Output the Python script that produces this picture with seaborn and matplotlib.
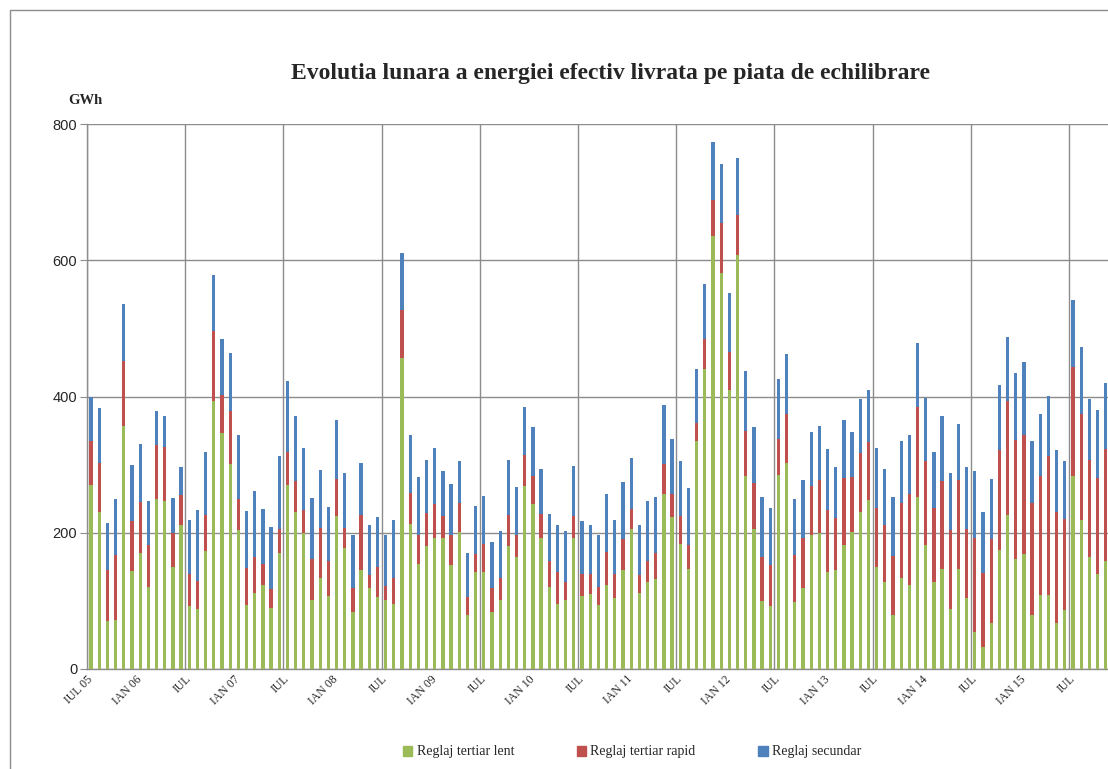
import pandas as pd
import matplotlib
matplotlib.use("Agg")
import matplotlib.pyplot as plt
from matplotlib.patches import Patch, Rectangle
import seaborn as sns

# monthly energy delivered on the balancing market, JUL 2005 - NOV 2015 (GWh)
months = pd.date_range("2005-07-01", "2015-11-01", freq="MS").strftime("%Y-%m").tolist()

tertiar_lent = [270, 231, 70, 72, 356, 144, 170, 121, 249, 246, 149, 211,
                92, 88, 173, 394, 346, 301, 204, 94, 112, 124, 89, 170,
                270, 231, 199, 102, 134, 107, 224, 178, 84, 146, 119, 106,
                102, 96, 456, 213, 154, 181, 193, 193, 153, 201, 79, 143,
                142, 84, 102, 181, 164, 269, 242, 192, 120, 96, 101, 192,
                107, 110, 94, 123, 104, 146, 205, 111, 127, 132, 257, 223,
                184, 147, 335, 441, 635, 582, 409, 608, 284, 206, 100, 93,
                285, 303, 98, 119, 196, 199, 142, 146, 182, 201, 230, 248,
                149, 128, 79, 134, 123, 253, 182, 128, 147, 88, 147, 104,
                55, 32, 67, 174, 226, 162, 169, 79, 108, 108, 68, 87,
                284, 219, 164, 139, 158]
tertiar_rapid = [64, 71, 76, 95, 96, 73, 75, 61, 80, 80, 51, 45,
                 47, 41, 53, 102, 56, 77, 45, 54, 52, 30, 28, 36,
                 48, 45, 35, 60, 73, 52, 55, 29, 35, 80, 19, 44,
                 20, 38, 71, 45, 43, 48, 49, 31, 44, 42, 26, 26,
                 42, 35, 31, 45, 33, 45, 42, 36, 38, 46, 27, 33,
                 32, 29, 26, 49, 35, 45, 30, 27, 31, 38, 44, 34,
                 40, 35, 26, 44, 54, 73, 56, 58, 65, 67, 64, 59,
                 53, 71, 70, 74, 73, 78, 92, 75, 99, 81, 87, 85,
                 88, 83, 87, 109, 134, 131, 124, 109, 129, 116, 130, 102,
                 138, 109, 124, 148, 168, 174, 175, 164, 175, 204, 163, 133,
                 160, 155, 143, 142, 165]
secundar = [65, 81, 69, 83, 84, 83, 85, 65, 50, 46, 51, 40,
            79, 105, 92, 83, 82, 86, 94, 84, 97, 81, 92, 106,
            105, 95, 90, 89, 85, 79, 86, 80, 78, 77, 74, 73,
            75, 84, 83, 86, 85, 78, 82, 66, 74, 62, 66, 70,
            70, 68, 70, 81, 70, 71, 71, 66, 70, 69, 75, 73,
            78, 73, 76, 85, 80, 84, 75, 74, 89, 82, 86, 81,
            82, 84, 80, 80, 85, 86, 87, 84, 89, 82, 89, 85,
            87, 89, 81, 85, 79, 80, 89, 75, 85, 66, 79, 77,
            87, 83, 86, 92, 86, 95, 92, 82, 95, 84, 83, 90,
            97, 90, 88, 95, 93, 98, 106, 92, 92, 89, 90, 85,
            97, 99, 90, 99, 97]

# axis labels every 6 months (IUL = July, IAN = January)
tick_labels = ["IUL 05", "IAN 06", "IUL", "IAN 07", "IUL", "IAN 08", "IUL",
               "IAN 09", "IUL", "IAN 10", "IUL", "IAN 11", "IUL", "IAN 12",
               "IUL", "IAN 13", "IUL", "IAN 14", "IUL", "IAN 15", "IUL"]
series_names = ["Reglaj tertiar lent", "Reglaj tertiar rapid", "Reglaj secundar"]
colors = ["#9BBB59", "#C0504D", "#4F81BD"]

df = pd.DataFrame({"Luna": months, "lent": tertiar_lent,
                   "rapid": tertiar_rapid, "secundar": secundar})
df["lent_rapid"] = df["lent"] + df["rapid"]
df["total"] = df["lent_rapid"] + df["secundar"]

sns.set_style("white")
serif = "Liberation Serif"
sans = "Liberation Sans"
grid_c = "#8C8C8C"

fig = plt.figure(figsize=(11.08, 7.69), dpi=100)
ax = fig.add_axes([87 / 1108, 100 / 769, 1031 / 1108, 545 / 769])

# stacked look: draw cumulative totals back to front
sns.barplot(data=df, x="Luna", y="total", color=colors[2], saturation=1,
            width=0.4, linewidth=0, ax=ax, zorder=3)
sns.barplot(data=df, x="Luna", y="lent_rapid", color=colors[1], saturation=1,
            width=0.4, linewidth=0, ax=ax, zorder=3)
sns.barplot(data=df, x="Luna", y="lent", color=colors[0], saturation=1,
            width=0.4, linewidth=0, ax=ax, zorder=3)

ax.set_xlim(-0.5, 125.5)
ax.set_ylim(0, 800)
ax.set_yticks([0, 200, 400, 600, 800])
ax.set_yticklabels(["0", "200", "400", "600", "800"], fontfamily=sans, fontsize=10.5)

# gridlines / tick marks on yearly July boundaries, labels at category centres
ax.set_xticks([-0.5 + 12 * k for k in range(11)])
ax.set_xticklabels([])
ax.set_xticks([6 * k for k in range(len(tick_labels))], minor=True)
ax.set_xticklabels(tick_labels, minor=True, rotation=45, ha="right", va="center",
                   rotation_mode="anchor", fontfamily=serif, fontsize=8.5)
ax.tick_params(axis="x", which="major", length=5, color=grid_c)
ax.tick_params(axis="x", which="minor", length=0, pad=6)
ax.tick_params(axis="y", length=5, color=grid_c, pad=2, left=True)

ax.grid(True, axis="y", color=grid_c, lw=1, zorder=0)
ax.grid(True, axis="x", which="major", color=grid_c, lw=1, zorder=0)
ax.grid(False, axis="x", which="minor")
ax.set_axisbelow(True)
for s in ["top", "right"]:
    ax.spines[s].set_visible(False)
for s in ["left", "bottom"]:
    ax.spines[s].set_color(grid_c)
    ax.spines[s].set_linewidth(1)
ax.set_xlabel("")
ax.set_ylabel("")

fig.text(0.551, 1 - 73 / 769, "Evolutia lunara a energiei efectiv livrata pe piata de echilibrare",
         ha="center", va="center", fontfamily=serif, fontweight="bold", fontsize=17)
fig.text(85 / 1108, 1 - 101 / 769, "GWh", ha="center", va="center",
         fontfamily=serif, fontweight="bold", fontsize=10.5)

handles = [Patch(facecolor=c, edgecolor=c) for c in colors]
fig.legend(handles, series_names, loc="center", bbox_to_anchor=(632 / 1108, 1 - 752 / 769),
           ncol=3, frameon=False, prop={"family": serif, "size": 10},
           handlelength=0.7, handleheight=0.7, handletextpad=0.3, columnspacing=4.5)

# outer chart frame
fig.add_artist(Rectangle((10 / 1108, -0.5), 2, 0.5 + 1 - 10 / 769, transform=fig.transFigure,
                         fill=False, edgecolor=grid_c, lw=1))

fig.savefig("out.png", dpi=100)
